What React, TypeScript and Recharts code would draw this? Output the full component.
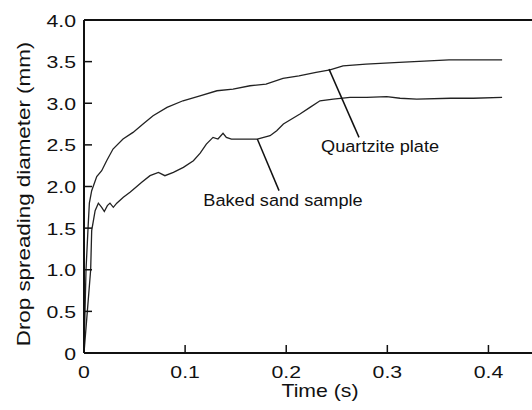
import React from "react";
import {
  LineChart,
  Line,
  XAxis,
  YAxis,
  ReferenceLine,
  ReferenceDot,
} from "recharts";

// Quartzite plate (upper curve)
const quartziteTime = [
  0, 0.001, 0.002, 0.004, 0.0053, 0.0076, 0.0126, 0.0175, 0.0224, 0.0287,
  0.0386, 0.0485, 0.0584, 0.0683, 0.0821, 0.0979, 0.1147, 0.1315, 0.1474,
  0.1642, 0.18, 0.1968, 0.2126, 0.2295, 0.2433, 0.2562, 0.2789, 0.3116,
  0.361, 0.3778, 0.4135,
];
const quartziteDiam = [
  0, 0.5, 1.0, 1.5, 1.8, 1.95, 2.12, 2.19, 2.31, 2.45, 2.57, 2.65, 2.75, 2.85,
  2.95, 3.03, 3.09, 3.15, 3.17, 3.21, 3.23, 3.3, 3.33, 3.37, 3.4, 3.45, 3.47,
  3.49, 3.52, 3.52, 3.52,
];

// Baked sand sample (lower curve)
const bakedTime = [
  0, 0.0033, 0.0066, 0.0076, 0.011, 0.0142, 0.0175, 0.0201, 0.0231, 0.0257,
  0.029, 0.0324, 0.0389, 0.0455, 0.0522, 0.0571, 0.0653, 0.0736, 0.08, 0.0884,
  0.0983, 0.1082, 0.1149, 0.121, 0.1276, 0.1325, 0.1375, 0.1408, 0.1458,
  0.1606, 0.1714, 0.184, 0.1906, 0.1972, 0.2136, 0.2235, 0.2334, 0.2465,
  0.2631, 0.2796, 0.2994, 0.3126, 0.3291, 0.3627, 0.385, 0.4135,
];
const bakedDiam = [
  0, 0.5, 1.0, 1.47, 1.71, 1.8, 1.75, 1.7, 1.77, 1.8, 1.75, 1.8, 1.87, 1.93,
  2.0, 2.05, 2.13, 2.17, 2.13, 2.17, 2.23, 2.31, 2.4, 2.51, 2.59, 2.57, 2.64,
  2.59, 2.57, 2.57, 2.57, 2.61, 2.67, 2.75, 2.87, 2.95, 3.03, 3.05, 3.07, 3.07,
  3.08, 3.06, 3.05, 3.06, 3.06, 3.07,
];

const xTicks = [0, 0.1, 0.2, 0.3, 0.4];
const yTicks = [0, 0.5, 1, 1.5, 2, 2.5, 3, 3.5, 4];

const quartzite = quartziteTime.map((t, i) => ({ t, d: quartziteDiam[i] }));
const baked = bakedTime.map((t, i) => ({ t, d: bakedDiam[i] }));

const FONT = '"Liberation Sans", Arial, Helvetica, sans-serif';
const INK = "#111";

const fmt = (v: number) => (v === 0 ? "0" : v.toFixed(1));

// the source text is a bit wider than Arial, so stretch it horizontally
const XTick = (props: any) => {
  const { x, y, payload } = props;
  return (
    <g transform={`translate(${x},${y + 14}) scale(1.25,1)`}>
      <text textAnchor="middle" fontSize={17} fontFamily={FONT} fill={INK}>
        {fmt(payload.value)}
      </text>
    </g>
  );
};

const YTick = (props: any) => {
  const { x, y, payload } = props;
  return (
    <g transform={`translate(${x},${y + 6.5}) scale(1.25,1)`}>
      <text textAnchor="end" fontSize={17} fontFamily={FONT} fill={INK}>
        {fmt(payload.value)}
      </text>
    </g>
  );
};

const XLabel = (props: any) => {
  const vb = props.viewBox ?? { x: 84, y: 353, width: 455, height: 50 };
  const cx = vb.x + vb.width / 2 + 8.5;
  const cy = vb.y + 44;
  return (
    <g transform={`translate(${cx},${cy}) scale(1.2,1)`}>
      <text textAnchor="middle" fontSize={17.7} fontFamily={FONT} fill={INK}>
        Time (s)
      </text>
    </g>
  );
};

const YLabel = (props: any) => {
  const vb = props.viewBox ?? { x: 0, y: 20, width: 84, height: 333 };
  const cx = vb.x + 30;
  const cy = vb.y + vb.height / 2 + 7.5;
  return (
    <g transform={`translate(${cx},${cy}) rotate(-90) scale(1.21,1)`}>
      <text textAnchor="middle" fontSize={18.5} fontFamily={FONT} fill={INK}>
        Drop spreading diameter (mm)
      </text>
    </g>
  );
};

const annotation = (text: string) => (props: any) => {
  const vb = props.viewBox;
  const cx = vb.x + vb.width / 2;
  const cy = vb.y + vb.height / 2;
  return (
    <g transform={`translate(${cx},${cy}) scale(1.1,1)`}>
      <text textAnchor="middle" fontSize={16.5} fontFamily={FONT} fill={INK}>
        {text}
      </text>
    </g>
  );
};

const blank = () => "";

export default function App() {
  return (
    <div
      style={{
        position: "absolute",
        left: 0,
        top: 0,
        width: 532,
        height: 410,
        overflow: "hidden",
        background: "#fff",
      }}
    >
      <LineChart
        width={545}
        height={410}
        margin={{ top: 20, right: 6, left: 0, bottom: 7 }}
      >
        <XAxis
          type="number"
          dataKey="t"
          domain={[0, 0.45]}
          ticks={xTicks}
          allowDataOverflow
          height={50}
          tickSize={0}
          tickMargin={11}
          axisLine={{ stroke: INK, strokeWidth: 2 }}
          tickLine={false}
          tick={<XTick />}
          label={XLabel}
        />
        <YAxis
          type="number"
          dataKey="d"
          domain={[0, 4]}
          ticks={yTicks}
          allowDataOverflow
          width={84}
          tickSize={0}
          tickMargin={8}
          axisLine={{ stroke: INK, strokeWidth: 2 }}
          tickLine={false}
          tick={<YTick />}
          label={YLabel}
        />
        {/* mirrored copies only draw the inward tick marks */}
        <XAxis
          xAxisId="inner"
          type="number"
          dataKey="t"
          domain={[0, 0.45]}
          ticks={xTicks}
          allowDataOverflow
          mirror
          tickSize={8}
          axisLine={false}
          tickLine={{ stroke: INK, strokeWidth: 1.5 }}
          tickFormatter={blank}
        />
        <YAxis
          yAxisId="inner"
          type="number"
          dataKey="d"
          domain={[0, 4]}
          ticks={yTicks}
          allowDataOverflow
          mirror
          tickSize={8}
          axisLine={false}
          tickLine={{ stroke: INK, strokeWidth: 1.5 }}
          tickFormatter={blank}
        />
        <ReferenceLine y={4} stroke={INK} strokeWidth={2} />
        <Line
          data={quartzite}
          dataKey="d"
          type="linear"
          stroke="#222"
          strokeWidth={1.3}
          dot={false}
          isAnimationActive={false}
        />
        <Line
          data={baked}
          dataKey="d"
          type="linear"
          stroke="#222"
          strokeWidth={1.3}
          dot={false}
          isAnimationActive={false}
        />
        <ReferenceLine
          segment={[
            { x: 0.2423, y: 3.41 },
            { x: 0.272, y: 2.59 },
          ]}
          stroke={INK}
          strokeWidth={1.5}
        />
        <ReferenceLine
          segment={[
            { x: 0.1714, y: 2.57 },
            { x: 0.1929, y: 1.95 },
          ]}
          stroke={INK}
          strokeWidth={1.5}
        />
        <ReferenceDot
          x={0.2928}
          y={2.414}
          r={0}
          fill="none"
          stroke="none"
          label={annotation("Quartzite plate")}
        />
        <ReferenceDot
          x={0.1968}
          y={1.766}
          r={0}
          fill="none"
          stroke="none"
          label={annotation("Baked sand sample")}
        />
      </LineChart>
    </div>
  );
}
